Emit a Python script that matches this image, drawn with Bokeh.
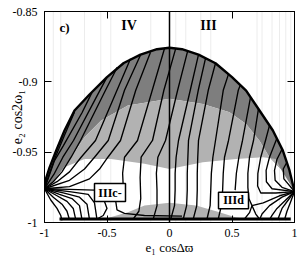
from bokeh.plotting import figure
from bokeh.models import Range1d, FixedTicker, LinearAxis, Label, Span
from bokeh.core.properties import value
from bokeh.embed import file_html
from bokeh.resources import INLINE

# ---------------- data ----------------
x_ticks = [-1.0, -0.5, 0.0, 0.5, 1.0]
x_tick_labels = ["-1", "-0.5", "0", "0.5", "1"]
y_ticks = [-1.0, -0.95, -0.9, -0.85]
y_tick_labels = ["-1", "-0.95", "-0.9", "-0.85"]
x_title = "e₁ cosΔϖ"
y_title = "e₂ cos2ω₁"

# outer boundary of the allowed region
bnd_x = [-1.0, -0.987, -0.96, -0.907, -0.84, -0.76, -0.64, -0.5, -0.366, -0.232, -0.1, 0.0,
         0.1, 0.232, 0.368, 0.5, 0.613, 0.72, 0.827, 0.907, 0.96, 0.992, 1.0]
bnd_y = [-0.976, -0.9685, -0.961, -0.949, -0.9346, -0.9204, -0.909, -0.8967, -0.8866, -0.8807, -0.8768, -0.8758,
         -0.8768, -0.8807, -0.8868, -0.8967, -0.9062, -0.9204, -0.9346, -0.9489, -0.963, -0.975, -0.978]

# lower edge of the dark band (= upper edge of the light band)
dark_x = [-1.0, -0.94, -0.87, -0.787, -0.68, -0.547, -0.333, 0.0, 0.267, 0.48, 0.613, 0.72, 0.8, 0.89, 0.96, 1.0]
dark_y = [-0.976, -0.972, -0.964, -0.9536, -0.9394, -0.9275, -0.9169, -0.9121, -0.9157, -0.9216, -0.9299,
          -0.9418, -0.9536, -0.962, -0.972, -0.978]

# lower edge of the light band
light_x = [-0.87, -0.84, -0.68, -0.467, -0.2, 0.0, 0.267, 0.533, 0.747, 0.853, 0.89]
light_y = [-0.964, -0.9607, -0.9548, -0.9548, -0.9583, -0.962, -0.9572, -0.9548, -0.9536, -0.9548, -0.962]

# lower grey band near e2 cos2w1 = -1
low_x = [-0.48, -0.333, -0.2, 0.0, 0.213, 0.4, 0.533, 0.62, 0.62, -0.48]
low_y = [-0.9965, -0.9927, -0.988, -0.986, -0.988, -0.9927, -0.9965, -0.9975, -0.9975, -0.9975]

# faint vertical background lines
faint_x = [-0.93, -0.87, -0.68, -0.55, -0.47, -0.15, 0.05, 0.13, 0.25, 0.33, 0.7, 0.74, 0.82, 0.88, 0.93, 0.97]

# level curves
curves = [
    # curves running into the left corner
    ([-0.76, -0.84, -0.92, -0.96, -1.0], [-0.9214, -0.938, -0.955, -0.965, -0.976]),
    ([-0.62, -0.70, -0.85, -0.92, -0.96, -1.0], [-0.9075, -0.922, -0.9455, -0.956, -0.966, -0.976]),
    ([-0.50, -0.58, -0.768, -0.853, -0.92, -1.0], [-0.8967, -0.910, -0.9417, -0.9536, -0.965, -0.976]),
    ([-0.418, -0.512, -0.712, -0.787, -0.86, -0.93, -1.0], [-0.8896, -0.906, -0.9417, -0.9536, -0.964, -0.971, -0.976]),
    ([-0.312, -0.42, -0.592, -0.707, -0.8, -0.9, -1.0], [-0.8836, -0.906, -0.9417, -0.9536, -0.964, -0.971, -0.976]),
    ([-0.23, -0.36, -0.49, -0.6, -0.68, -0.8, -1.0], [-0.8806, -0.906, -0.9417, -0.9536, -0.962, -0.970, -0.976]),
    ([-0.152, -0.27, -0.392, -0.493, -0.56, -0.64, -0.8, -1.0], [-0.879, -0.906, -0.9417, -0.9536, -0.962, -0.969, -0.9745, -0.976]),
    ([-0.04, -0.138, -0.256, -0.36, -0.375, -0.37], [-0.8763, -0.906, -0.9417, -0.9536, -0.965, -0.975]),
    ([-1.0, -0.8, -0.6], [-0.976, -0.9765, -0.977]),
    # curves running down to the bottom
    ([0.05, -0.045, -0.136, -0.227, -0.235, -0.23, -0.245, -0.29], [-0.8762, -0.906, -0.9417, -0.9536, -0.968, -0.983, -0.992, -0.9975]),
    ([0.144, 0.065, -0.032, -0.093, -0.105, -0.10, -0.10, -0.13], [-0.8785, -0.906, -0.9417, -0.9536, -0.965, -0.977, -0.988, -0.9975]),
    ([0.232, 0.166, 0.072, 0.053, 0.045, 0.045, 0.04, 0.01], [-0.8807, -0.906, -0.9417, -0.9536, -0.965, -0.977, -0.988, -0.9975]),
    ([0.288, 0.23, 0.152, 0.147, 0.142, 0.142, 0.137, 0.11], [-0.8833, -0.906, -0.9417, -0.9536, -0.965, -0.977, -0.988, -0.9975]),
    ([0.368, 0.31, 0.232, 0.226, 0.222, 0.222, 0.218, 0.19], [-0.8868, -0.906, -0.9417, -0.9536, -0.965, -0.977, -0.988, -0.9975]),
    ([0.472, 0.43, 0.368, 0.347, 0.335, 0.33, 0.325, 0.30], [-0.8945, -0.906, -0.9417, -0.9536, -0.965, -0.977, -0.988, -0.9975]),
    ([0.568, 0.55, 0.472, 0.44, 0.43, 0.425, 0.415, 0.39], [-0.902, -0.906, -0.9417, -0.9536, -0.965, -0.977, -0.988, -0.9975]),
    ([0.648, 0.584, 0.555, 0.535, 0.525], [-0.911, -0.9417, -0.9536, -0.965, -0.977]),
    # curves running into the right corner
    ([0.712, 0.672, 0.64, 0.627, 0.627, 0.635, 0.66, 0.75, 0.88, 1.0], [-0.919, -0.9417, -0.9536, -0.965, -0.975, -0.983, -0.988, -0.986, -0.981, -0.978]),
    ([0.80, 0.768, 0.73, 0.707, 0.705, 0.73, 0.85, 1.0], [-0.931, -0.9417, -0.9536, -0.965, -0.974, -0.979, -0.979, -0.978]),
    ([0.86, 0.80, 0.773, 0.775, 0.82, 1.0], [-0.940, -0.9536, -0.963, -0.971, -0.976, -0.978]),
    ([0.90, 0.86, 0.84, 0.845, 0.9, 1.0], [-0.948, -0.955, -0.963, -0.97, -0.975, -0.978]),
    ([0.94, 0.91, 0.915, 1.0], [-0.957, -0.962, -0.969, -0.978]),
    # fan at the left corner
    ([-1.0, -0.95, -0.9, -0.87, -0.86], [-0.976, -0.984, -0.99, -0.995, -0.9985]),
    ([-1.0, -0.93, -0.86, -0.82, -0.80], [-0.976, -0.982, -0.987, -0.992, -0.998]),
    ([-1.0, -0.9, -0.82, -0.77, -0.75], [-0.976, -0.981, -0.985, -0.99, -0.998]),
    ([-1.0, -0.88, -0.78, -0.72, -0.70], [-0.976, -0.980, -0.983, -0.988, -0.998]),
    ([-1.0, -0.85, -0.72, -0.66, -0.64], [-0.976, -0.979, -0.982, -0.987, -0.998]),
    ([-1.0, -0.8, -0.65, -0.6, -0.58], [-0.976, -0.978, -0.980, -0.986, -0.998]),
    # cusps under the boxed labels
    ([-0.52, -0.5, -0.53, -0.58], [-0.985, -0.99, -0.995, -0.9975]),
    ([-0.43, -0.42, -0.36, -0.2, 0.1], [-0.985, -0.991, -0.9935, -0.995, -0.9955]),
    ([0.66, 0.64, 0.60], [-0.988, -0.993, -0.9975]),
    ([0.66, 0.69, 0.72], [-0.988, -0.994, -0.9975]),
    # fan at the right corner
    ([1.0, 0.93, 0.86, 0.82, 0.80], [-0.978, -0.984, -0.99, -0.995, -0.998]),
    ([1.0, 0.95, 0.9, 0.87], [-0.978, -0.984, -0.99, -0.997]),
    ([1.0, 0.97, 0.94, 0.92], [-0.978, -0.985, -0.992, -0.998]),
    ([1.0, 0.9, 0.8, 0.74, 0.72], [-0.978, -0.982, -0.988, -0.994, -0.998]),
]
bottom_x = [-0.88, 0.97]
bottom_y = [-0.9975, -0.9975]

# boxed labels
box_text = ["IIIc-", "IIId"]
box_x = [-0.476, 0.512]
box_y = [-0.9787, -0.9843]
box_w = [0.248, 0.24]
box_h = [0.0128, 0.0117]

# region labels
reg_text = ["c)", "IV", "III"]
reg_x = [-0.84, -0.324, 0.312]
reg_y = [-0.8614, -0.8603, -0.8603]
reg_size = ["13px", "14px", "14px"]

# ---------------- figure ----------------
p = figure(width=305, height=261, x_range=Range1d(-1, 1), y_range=Range1d(-1, -0.85),
           output_backend="svg", toolbar_location=None,
           min_border_left=44, min_border_right=11, min_border_top=11, min_border_bottom=39)
p.grid.visible = False
p.outline_line_color = "black"
p.outline_line_width = 1
p.background_fill_color = "white"
p.border_fill_color = "white"

FONT = "Liberation Serif"

def style_axis(ax, ticks, labels, show):
    ax.ticker = FixedTicker(ticks=ticks)
    ax.major_tick_in = 7
    ax.major_tick_out = 0
    ax.minor_tick_line_color = None
    ax.axis_line_color = "black"
    ax.major_tick_line_color = "black"
    ax.major_label_text_font = FONT
    ax.major_label_text_color = "black"
    if show:
        ax.major_label_overrides = dict(zip(ticks, labels))
        ax.major_label_text_font_size = "12px"
        ax.major_label_standoff = 7
    else:
        ax.major_label_overrides = {t: "" for t in ticks}
        ax.major_label_text_font_size = "0px"
        ax.major_label_standoff = 0

style_axis(p.xaxis[0], x_ticks, x_tick_labels, True)
style_axis(p.yaxis[0], y_ticks, y_tick_labels, True)
p.xaxis[0].major_label_standoff = 6
for ax, title, st, fs in [(p.xaxis[0], x_title, 0, "13px"), (p.yaxis[0], y_title, -15, "14px")]:
    ax.axis_label = title
    ax.axis_label_text_font = FONT
    ax.axis_label_text_font_style = "normal"
    ax.axis_label_text_font_size = fs
    ax.axis_label_text_color = "black"
    ax.axis_label_standoff = st

top = LinearAxis()
right = LinearAxis()
style_axis(top, x_ticks, x_tick_labels, False)
style_axis(right, y_ticks, y_tick_labels, False)
p.add_layout(top, "above")
p.add_layout(right, "right")

# faint background lines
p.segment(x0=faint_x, y0=[-1.0] * len(faint_x), x1=faint_x, y1=[-0.85] * len(faint_x),
          line_color="#ececec", line_width=1)

# shaded bands
p.patch(bnd_x + dark_x[::-1], bnd_y + dark_y[::-1], fill_color="#7e7e7e", line_color=None)
i0 = dark_x.index(-0.87)
i1 = dark_x.index(0.89)
p.patch(dark_x[i0:i1 + 1] + light_x[::-1], dark_y[i0:i1 + 1] + light_y[::-1],
        fill_color="#b2b2b2", line_color=None)
p.patch(low_x, low_y, fill_color="#b2b2b2", line_color=None)

# level curves
p.multi_line([c[0] for c in curves], [c[1] for c in curves], line_color="black", line_width=1.35)
p.line(bottom_x, bottom_y, line_color="black", line_width=3)
p.line(bnd_x, bnd_y, line_color="black", line_width=2.4)

p.add_layout(Span(location=0, dimension="height", line_color="black", line_width=1.5))

# boxed labels
p.rect(box_x, box_y, width=box_w, height=box_h, fill_color="white", line_color="black", line_width=1.5)
p.text(box_x, box_y, text=box_text, text_align="center", text_baseline="middle",
       text_font=value(FONT), text_font_style="bold", text_font_size="12px", text_color="black")

# region labels
for txt, xx, yy, sz in zip(reg_text, reg_x, reg_y, reg_size):
    p.add_layout(Label(x=xx, y=yy, text=txt, text_align="center", text_baseline="middle",
                       text_font=FONT, text_font_style="bold", text_font_size=sz, text_color="black"))

open("out.html", "w").write(file_html(p, INLINE))
